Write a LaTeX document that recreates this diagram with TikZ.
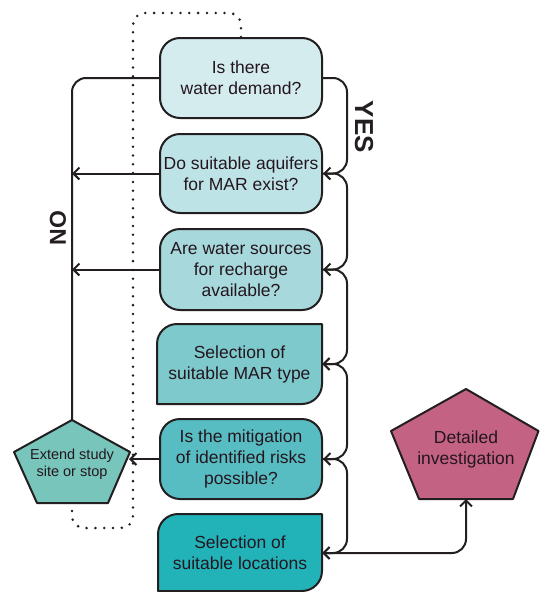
\documentclass[tikz,border=0pt]{standalone}
\usepackage{fontspec}
\setmainfont{Liberation Sans}
\usetikzlibrary{arrows.meta,calc}
\definecolor{cA}{HTML}{D4ECEE}
\definecolor{cB}{HTML}{BEE3E6}
\definecolor{cC}{HTML}{A7D9DC}
\definecolor{cD}{HTML}{7EC9CC}
\definecolor{cE}{HTML}{58BDC2}
\definecolor{cF}{HTML}{22B3B9}
\definecolor{cExt}{HTML}{78C5BC}
\definecolor{cDet}{HTML}{C36282}
\definecolor{ink}{HTML}{231F20}
\definecolor{txt}{HTML}{24161F}
\begin{document}
\begin{tikzpicture}[x=1pt,y=-1pt,
  lbl/.style={text=txt, font=\fontsize{17.5}{21}\selectfont, align=center, inner sep=0pt},
  rbox/.style={draw=ink, line width=2pt, rounded corners=20pt, minimum width=162pt, minimum height=80pt, lbl},
  plain/.style={minimum width=164pt, minimum height=80pt, lbl},
  conn/.style={draw=ink, line width=2pt, rounded corners=14pt},
  arr/.style={conn, -{Straight Barb[length=6pt,width=12pt]}},
  shapeline/.style={draw=ink, line width=2pt, line join=round},
  dotline/.style={draw=ink, line width=2.8pt, line cap=round, dash pattern=on 0pt off 8.8pt, rounded corners=12pt},
  biglbl/.style={text=ink, inner sep=0pt},
]
\fill[white] (0,0) rectangle (540,592);
\useasboundingbox (0,0) rectangle (540,592);

% boxes
\node[rbox, fill=cA] (b1) at (241,78) {Is there\\water demand?};
\node[rbox, fill=cB, minimum height=79pt] (b2) at (241,173.5) {Do suitable aquifers\\for MAR exist?};
\node[rbox, fill=cC, minimum height=81pt] (b3) at (241,269.5) {Are water sources\\for recharge\\available?};
\draw[shapeline, fill=cD] (157,404) -- (157,344) .. controls (157,333) and (166,324) .. (177,324) -- (322,324) -- (322,384) .. controls (322,395) and (313,404) .. (302,404) -- cycle;
\node[plain, minimum width=165pt] (b4) at (239.5,364) {Selection of\\suitable MAR type};
\node[rbox, fill=cE] (b5) at (241,459) {Is the mitigation\\of identified risks\\possible?};
\draw[shapeline, fill=cF] (158,591) -- (158,534) .. controls (158,523) and (167,514) .. (178,514) -- (322,514) -- (322,571) .. controls (322,582) and (313,591) .. (302,591) -- cycle;
\node[plain] (b6) at (240,553) {Selection of\\suitable locations};

% pentagons
\draw[shapeline, fill=cExt] (72,420) -- (130,452) -- (108,503) -- (37,503) -- (14,452) -- cycle;
\node[lbl, font=\fontsize{14.5}{16.5}\selectfont] (ext) at (72,464) {Extend study\\site or stop};
\coordinate (ext-top) at (72,420);
\coordinate (ext-in) at (129,459);
\coordinate (ext-bot) at (72,504);

\draw[shapeline, fill=cDet] (466,389) -- (538.5,431) -- (513,499) -- (419,499) -- (391,431) -- cycle;
\node[lbl] (det) at (466,449) {Detailed\\investigation};
\coordinate (det-bot) at (466,499);

% NO connectors
\draw[conn] (b1.west) -| (ext-top);
\draw[arr] (b2.west) -- (b2.west -| ext-top);
\draw[arr] (b3.west) -- (b3.west -| ext-top);
\draw[arr] (b5.west) -- (ext-in);

% YES chain
\coordinate (yes) at (347,0);
\draw[arr] (b1.east) -- (b1.east -| yes) -- (b2.east -| yes) -- (b2.east);
\draw[arr] (b2.east) -- (b2.east -| yes) -- (b3.east -| yes) -- (b3.east);
\draw[arr] (b3.east) -- (b3.east -| yes) -- (b4.east -| yes) -- (b4.east);
\draw[arr] (b4.east) -- (b4.east -| yes) -- (b5.east -| yes) -- (b5.east);
\draw[arr] (b5.east) -- (b5.east -| yes) -- (b6.east -| yes) -- (b6.east);

% to detailed investigation
\draw[arr] (b6.east) -| (det-bot);

% dotted loop
\coordinate (dA) at (241,13);
\coordinate (dB) at (133,13);
\coordinate (dC) at (133,528);
\coordinate (dD) at (72,528);
\draw[dotline] (b1.north) -- (dA) -- (dB) -- (dC) -- (dD) -- (ext-bot);

% labels
\node[biglbl, rotate=90, font=\bfseries\fontsize{23}{23}\selectfont] (nolbl) at (58,228) {NO};
\node[biglbl, rotate=-90, font=\bfseries\fontsize{26}{26}\selectfont] (yeslbl) at (364,127) {YES};
\end{tikzpicture}
\end{document}
